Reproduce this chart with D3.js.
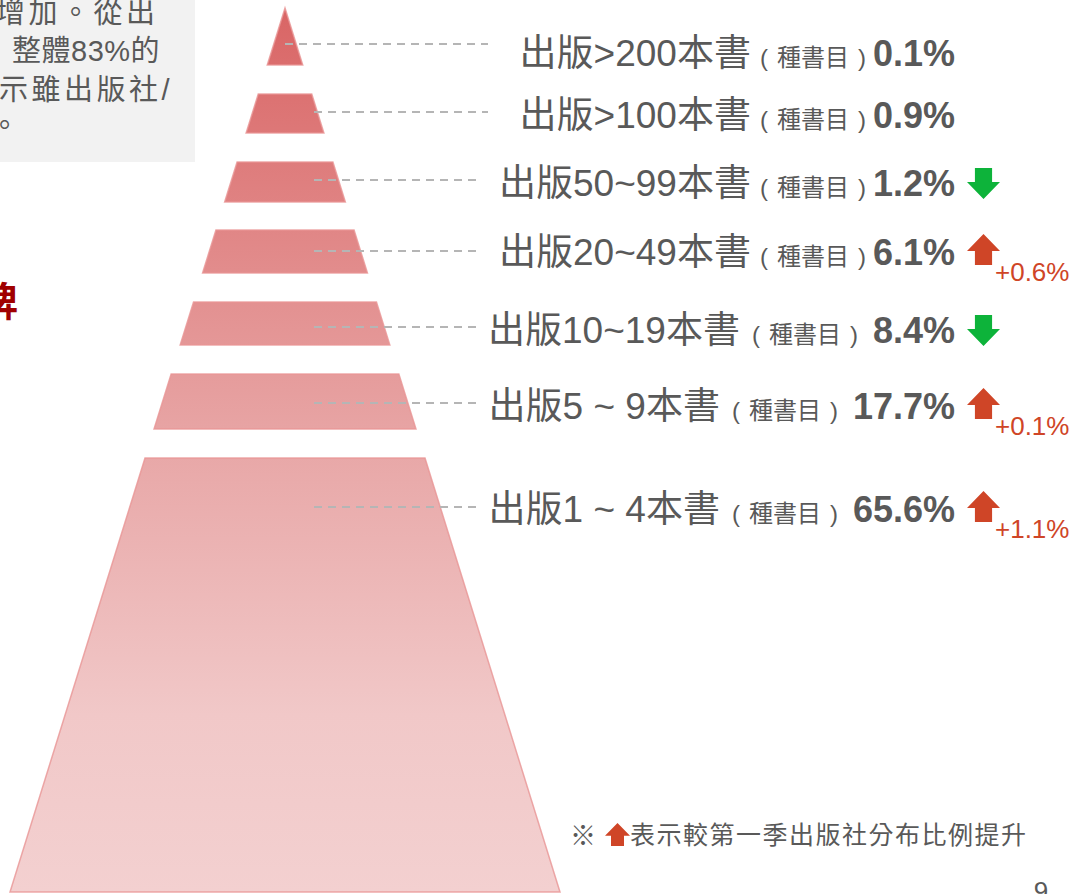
<!DOCTYPE html>
<html>
<head>
<meta charset="utf-8">
<title>出版社出版書目分布</title>
<style>
  html, body { margin: 0; padding: 0; background: #fff; }
  svg { display: block; }
  text { font-family: 'Liberation Sans', 'Noto Sans CJK TC', sans-serif; }
</style>
</head>
<body>
<svg width="1073" height="894"></svg>
<script src="https://cdn.jsdelivr.net/npm/d3@7/dist/d3.min.js"></script>
<script>
// data
var categories = ['出版>200本書', '出版>100本書', '出版50~99本書', '出版20~49本書',
                  '出版10~19本書', '出版5 ~ 9本書', '出版1 ~ 4本書'];
var subLabel = '種書目';
var shares = [0.1, 0.9, 1.2, 6.1, 8.4, 17.7, 65.6];
var trend = [0, 0, -1, 1, -1, 1, 1];          // -1 down, 1 up, 0 none
var deltas = [null, null, null, 0.6, null, 0.1, 1.1];
var noteLines = ['增加。從出', '整體83%的', '示雖出版社/', '。'];
var footnote = '表示較第一季出版社分布比例提升';

// layout (px) of the stylised pyramid
var svg = d3.select('svg');
var apex = { x: 285, y: 8 }, baseY = 892, baseHalf = 275;
var bandTop    = [8, 94, 162, 230, 302, 374, 458];
var bandBottom = [65, 133, 202, 273, 345, 429, 892];
var rowY       = [44, 112, 180, 251, 327, 403, 507];
var baseline   = [66, 128, 196, 265, 343, 419, 522];

var idx = d3.range(categories.length);
var half = d3.scaleLinear().domain([apex.y, baseY]).range([0, baseHalf]);
var colorY = d3.scaleLinear()
  .domain([0, 0.5, 0.8, 1])
  .range(['#d96565', '#e8a7a7', '#f1c8c8', '#f3d0d0']);

var defs = svg.append('defs');
var grad = defs.append('linearGradient')
  .attr('id', 'pyr').attr('gradientUnits', 'userSpaceOnUse')
  .attr('x1', 0).attr('x2', 0).attr('y1', apex.y).attr('y2', baseY);
[0, 0.5, 0.8, 1].forEach(function (t) {
  grad.append('stop').attr('offset', t).attr('stop-color', colorY(t));
});

// note box top-left (slide text cut at the edge)
svg.append('rect').attr('x', 0).attr('y', 0).attr('width', 195).attr('height', 162)
  .attr('fill', '#f2f2f2');
var noteX = [-4, 12, -1, -10], noteSpacing = [3.5, 0.5, 3.5, 0], noteBase = [23, 61, 100, 136];
svg.selectAll('text.note').data(noteLines).enter().append('text')
  .attr('class', 'note')
  .attr('x', function (d, i) { return noteX[i]; })
  .attr('y', function (d, i) { return noteBase[i]; })
  .attr('font-size', 29)
  .attr('letter-spacing', function (d, i) { return noteSpacing[i]; })
  .attr('fill', '#595959')
  .text(function (d) { return d; });

svg.append('text').attr('x', 18).attr('y', 316).attr('text-anchor', 'end')
  .attr('font-size', 40).attr('font-weight', 'bold').attr('fill', '#a00000')
  .text('牌');

// pyramid bands
svg.selectAll('path.band').data(idx).enter().append('path')
  .attr('class', 'band')
  .attr('d', function (i) {
    var t = bandTop[i], b = bandBottom[i];
    var ht = half(t), hb = half(b);
    var p = d3.path();
    p.moveTo(apex.x - ht, t);
    p.lineTo(apex.x + ht, t);
    p.lineTo(apex.x + hb, b);
    p.lineTo(apex.x - hb, b);
    p.closePath();
    return p.toString();
  })
  .attr('fill', 'url(#pyr)')
  .attr('stroke', '#e99595')
  .attr('stroke-opacity', 0.8)
  .attr('stroke-width', 1.5);

// leader lines
svg.selectAll('line.leader').data(idx).enter().append('line')
  .attr('class', 'leader')
  .attr('x1', function (i) { return i === 0 ? 285 : 314; })
  .attr('x2', function (i) { return i < 2 ? 488 : 478; })
  .attr('y1', function (i) { return rowY[i]; })
  .attr('y2', function (i) { return rowY[i]; })
  .attr('stroke', '#b5b5b5').attr('stroke-width', 2)
  .attr('stroke-dasharray', '8,6');

// labels
var labelX = 955;
var lbl = svg.selectAll('text.lbl').data(idx).enter().append('text')
  .attr('class', 'lbl')
  .attr('x', labelX)
  .attr('y', function (i) { return baseline[i]; })
  .attr('text-anchor', 'end')
  .attr('fill', '#595959');
lbl.append('tspan').attr('font-size', 37).text(function (i) { return categories[i]; });
lbl.append('tspan').attr('font-size', 24)
  .attr('dx', function (i) { return i >= 4 ? 12 : 9; }).text('(');
lbl.append('tspan').attr('font-size', 24).attr('dx', 9).text(subLabel);
lbl.append('tspan').attr('font-size', 24).attr('dx', 9).text(')');
lbl.append('tspan').attr('font-size', 36).attr('font-weight', 'bold')
  .attr('dx', function (i) { return i >= 4 ? 15 : 7; })
  .text(function (i) { return d3.format('.1f')(shares[i]) + '%'; });

// trend arrows
function arrowPath(cx, top, w, h, dir) {
  var head = h * 0.55, shaft = w * 0.52;
  var pts;
  if (dir > 0) {
    pts = [[cx, top], [cx + w / 2, top + head], [cx + shaft / 2, top + head],
           [cx + shaft / 2, top + h], [cx - shaft / 2, top + h],
           [cx - shaft / 2, top + head], [cx - w / 2, top + head]];
  } else {
    pts = [[cx, top + h], [cx + w / 2, top + h - head], [cx + shaft / 2, top + h - head],
           [cx + shaft / 2, top], [cx - shaft / 2, top],
           [cx - shaft / 2, top + h - head], [cx - w / 2, top + h - head]];
  }
  return d3.line()(pts) + 'Z';
}
var UP = '#cf4527', DOWN = '#0db33a';
var trendIdx = idx.filter(function (i) { return trend[i] !== 0; });
svg.selectAll('path.arrow').data(trendIdx).enter().append('path')
  .attr('class', 'arrow')
  .attr('d', function (i) {
    var top = trend[i] < 0 ? baseline[i] - 28 : baseline[i] - 31;
    return arrowPath(983.5, top, 33, 31, trend[i]);
  })
  .attr('fill', function (i) { return trend[i] > 0 ? UP : DOWN; });

svg.selectAll('text.delta').data(idx.filter(function (i) { return deltas[i] != null; }))
  .enter().append('text')
  .attr('class', 'delta')
  .attr('x', 995)
  .attr('y', function (i) { return baseline[i] + 16; })
  .attr('font-size', 26)
  .attr('fill', UP)
  .text(function (i) { return '+' + d3.format('.1f')(deltas[i]) + '%'; });

// footnote
svg.append('text').attr('x', 570).attr('y', 845).attr('font-size', 26)
  .attr('fill', '#595959').text('※');
svg.append('path').attr('d', arrowPath(617.5, 823, 25, 23, 1)).attr('fill', UP);
svg.append('text').attr('x', 630).attr('y', 844).attr('font-size', 25)
  .attr('letter-spacing', 1.5)
  .attr('fill', '#595959').text(footnote);

// page number
svg.append('text').attr('x', 1041).attr('y', 900).attr('text-anchor', 'middle')
  .attr('font-size', 26).attr('fill', '#595959').text('9');
</script>
</body>
</html>
